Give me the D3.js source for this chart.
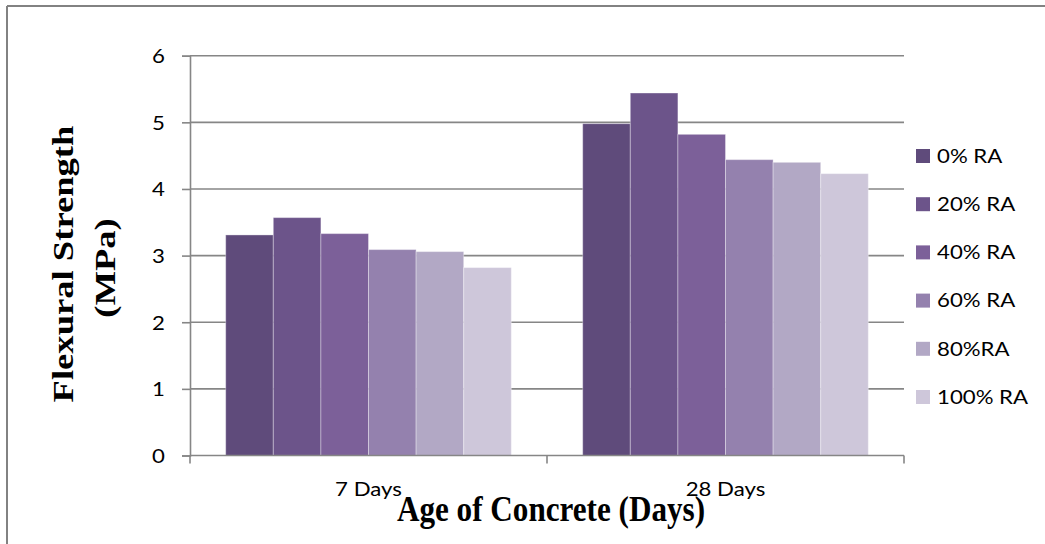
<!DOCTYPE html>
<html>
<head>
<meta charset="utf-8">
<script src="https://cdn.jsdelivr.net/npm/d3@7"></script>
<style>
  html, body { margin: 0; padding: 0; background: #fff; }
  svg { display: block; }
</style>
</head>
<body>
<svg id="chart" width="1045" height="544"></svg>
<script>
// ---- data ----
const categories = ["7 Days", "28 Days"];
const seriesNames = ["0% RA", "20% RA", "40% RA", "60% RA", "80%RA", "100% RA"];
const values7 = [3.31, 3.57, 3.33, 3.09, 3.06, 2.82];
const values28 = [4.98, 5.44, 4.82, 4.44, 4.40, 4.23];
const seriesColors = ["#5F4B7B", "#6C548A", "#7C6099", "#9481AE", "#B2A8C5", "#CEC7DA"];
const yTicks = [0, 1, 2, 3, 4, 5, 6];
const xTitle = "Age of Concrete (Days)";
const yTitleLines = ["Flexural Strength", "(MPa)"];

const valuesByCat = { "7 Days": values7, "28 Days": values28 };

const svg = d3.select("#chart");
const plotLeft = 190, plotRight = 904, plotTop = 55.7, plotBottom = 455.5;
const gray = "#868686";
const labelFont = "Lato, sans-serif";
const labelSize = "19px";

// outer border (top and left visible)
svg.append("line").attr("x1", 7).attr("x2", 1045).attr("y1", 6).attr("y2", 6)
  .attr("stroke", "#828282").attr("stroke-width", 2);
svg.append("line").attr("x1", 7).attr("x2", 7).attr("y1", 6).attr("y2", 544)
  .attr("stroke", "#828282").attr("stroke-width", 2);

const x = d3.scaleBand().domain(categories).range([plotLeft, plotRight]).paddingInner(0).paddingOuter(0);
const xInner = d3.scaleBand().domain(seriesNames).range([0, x.bandwidth()]).paddingInner(0).paddingOuter(0.75);
const y = d3.scaleLinear().domain([0, 6]).range([plotBottom, plotTop]);

// gridlines
svg.append("g").selectAll("line").data(yTicks.filter(d => d > 0)).join("line")
  .attr("x1", plotLeft).attr("x2", plotRight)
  .attr("y1", d => y(d)).attr("y2", d => y(d))
  .attr("stroke", gray).attr("stroke-width", 1.6);

// bars
const groups = svg.append("g").selectAll("g").data(categories).join("g")
  .attr("transform", d => `translate(${x(d)},0)`);
groups.selectAll("rect")
  .data(c => seriesNames.map((s, i) => ({ s, i, v: valuesByCat[c][i] })))
  .join("rect")
  .attr("x", d => xInner(d.s))
  .attr("width", xInner.bandwidth())
  .attr("y", d => y(d.v))
  .attr("height", d => y(0) - y(d.v))
  .attr("fill", d => seriesColors[d.i])
  .attr("stroke", "rgba(255,255,255,0.35)")
  .attr("stroke-width", 1);

// y axis
const yAxis = svg.append("g").attr("transform", `translate(${plotLeft},0)`)
  .call(d3.axisLeft(y).tickValues(yTicks).tickSize(8).tickFormat(d3.format("d")));
yAxis.select(".domain").attr("stroke", gray).attr("stroke-width", 1.6);
yAxis.selectAll(".tick line").attr("stroke", gray).attr("stroke-width", 1.6);
yAxis.selectAll(".tick text")
  .attr("x", 0).attr("dy", "0.36em")
  .attr("transform", "translate(-25,0) scale(1.17,1)")
  .attr("text-anchor", "end")
  .style("font-family", labelFont).style("font-size", labelSize).attr("fill", "#000");

// x axis
svg.append("line").attr("x1", plotLeft).attr("x2", plotRight).attr("y1", plotBottom).attr("y2", plotBottom)
  .attr("stroke", gray).attr("stroke-width", 1.6);
const boundaries = [x(categories[0])].concat(categories.map(c => x(c) + x.bandwidth()));
svg.append("g").selectAll("line").data(boundaries).join("line")
  .attr("x1", d => d).attr("x2", d => d).attr("y1", plotBottom).attr("y2", plotBottom + 8)
  .attr("stroke", gray).attr("stroke-width", 1.6);
svg.append("g").selectAll("text").data(categories).join("text")
  .attr("transform", d => `translate(${x(d) + x.bandwidth() / 2},496) scale(1.17,1)`)
  .attr("text-anchor", "middle")
  .style("font-family", labelFont).style("font-size", labelSize).attr("fill", "#000")
  .text(d => d);

// x title
svg.append("text")
  .attr("transform", "translate(551,521) scale(0.89,1)")
  .attr("text-anchor", "middle")
  .style("font-family", "'Liberation Serif', 'Times New Roman', serif")
  .style("font-weight", "bold").style("font-size", "35px").attr("fill", "#000")
  .text(xTitle);

// y title
const yTitlePos = [{ bx: 73, cy: 264 }, { bx: 115, cy: 268 }];
svg.append("g").selectAll("text").data(yTitleLines).join("text")
  .attr("transform", (d, i) => `translate(${yTitlePos[i].bx},${yTitlePos[i].cy}) rotate(-90) scale(1.22,1)`)
  .attr("text-anchor", "middle")
  .style("font-family", "'Liberation Serif', 'Times New Roman', serif")
  .style("font-weight", "bold").style("font-size", "30px").attr("fill", "#000")
  .text(d => d);

// legend
const legendY = d3.scalePoint().domain(seriesNames).range([156, 397]);
const legend = svg.append("g").selectAll("g").data(seriesNames).join("g")
  .attr("transform", d => `translate(916,${legendY(d)})`);
legend.append("rect").attr("x", 0).attr("y", -7).attr("width", 14).attr("height", 14)
  .attr("fill", (d, i) => seriesColors[i]);
legend.append("text")
  .attr("transform", "translate(21,0) scale(1.17,1)")
  .attr("dy", "0.36em")
  .style("font-family", labelFont).style("font-size", labelSize).attr("fill", "#000")
  .text(d => d);
</script>
</body>
</html>
